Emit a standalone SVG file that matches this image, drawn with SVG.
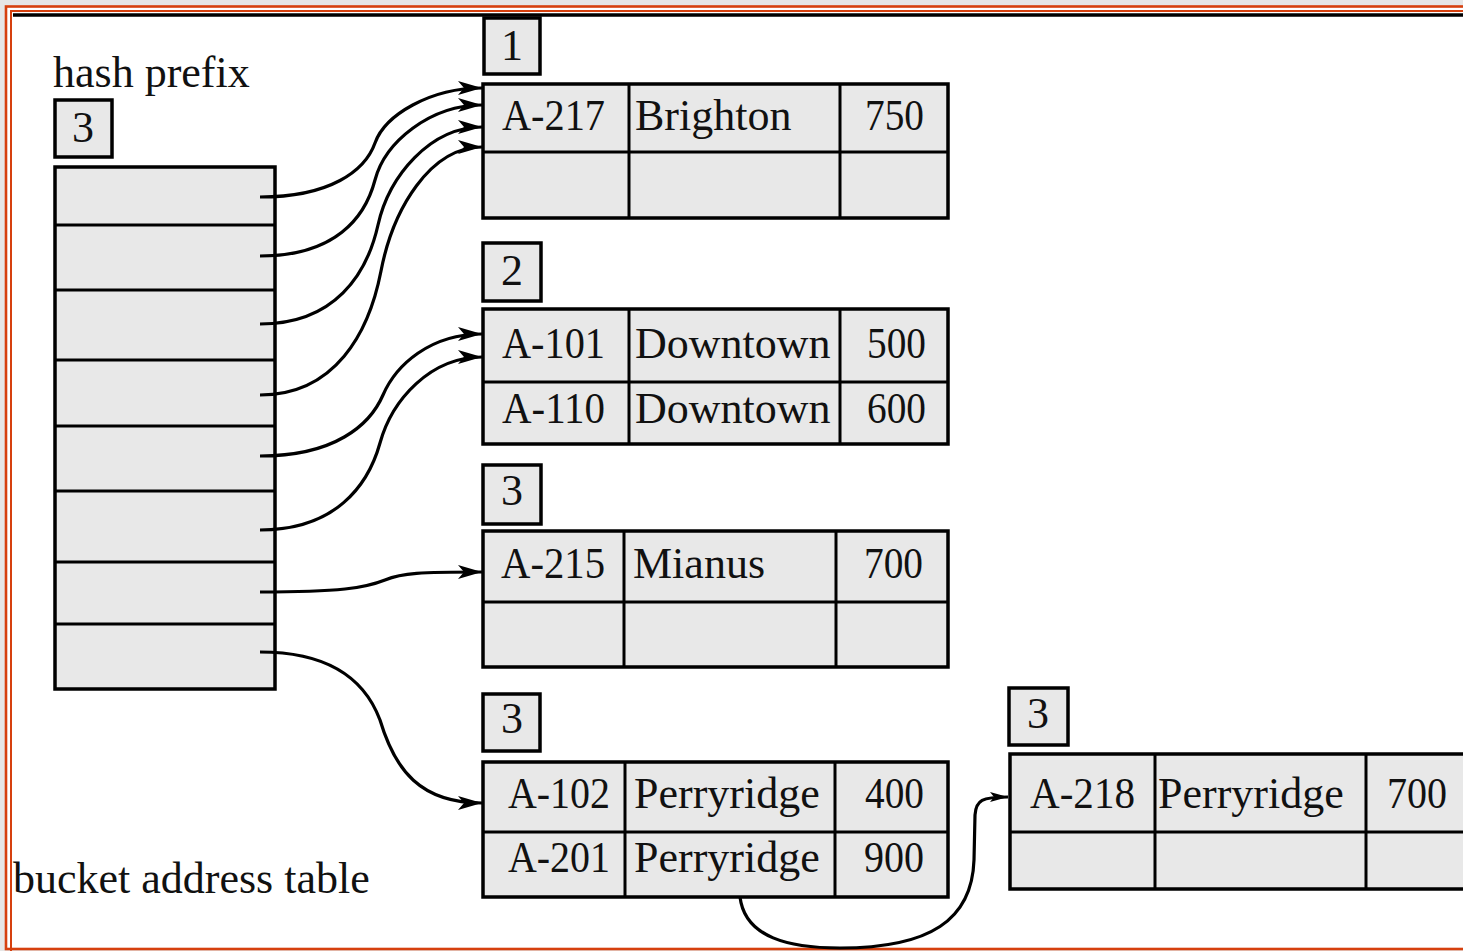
<svg xmlns="http://www.w3.org/2000/svg" width="1463" height="951" viewBox="0 0 1463 951">
<defs>
<style>
.t{font-family:"Liberation Serif","Times New Roman",serif;font-size:44px;fill:#111}
.m{text-anchor:middle}
.box{fill:#e8e8e8;stroke:#000;stroke-width:3.5}
.grid{fill:none;stroke:#000;stroke-width:3}
.c{fill:none;stroke:#000;stroke-width:3.2}
</style>
<marker id="ah" markerUnits="userSpaceOnUse" markerWidth="26" markerHeight="16" refX="24" refY="7" orient="auto">
<path d="M0,0 L24,7 L0,14 L6,7 z" fill="#000"/>
</marker>
<marker id="ahs" markerUnits="userSpaceOnUse" markerWidth="20" markerHeight="12" refX="18" refY="5" orient="auto">
<path d="M0,0 L18,5 L0,10 L4,5 z" fill="#000"/>
</marker>
</defs>
<g id="frame">
<rect x="0" y="0" width="1463" height="951" fill="#e6e6e6"/>
<rect x="6" y="6.5" width="1470" height="942.5" fill="#fff" stroke="#d6400e" stroke-width="2.6"/>
<path d="M11,960 V11 H1470" fill="none" stroke="#d6400e" stroke-width="2"/>
<line x1="13" y1="15" x2="1463" y2="15" stroke="#000" stroke-width="3.6"/>
</g>
<g id="hash-prefix">
<text class="t" x="53" y="87">hash prefix</text>
<rect class="box" x="55" y="100" width="57" height="57"/>
<text class="t m" x="83" y="142">3</text>
</g>
<g id="bucket-address-table">
<rect class="box" x="55" y="167" width="220" height="522"/>
<path class="grid" d="M55,225H275M55,290H275M55,360H275M55,426H275M55,491H275M55,562H275M55,624H275"/>
<text class="t" x="13" y="893">bucket address table</text>
</g>
<g id="bucket1">
<rect class="box" x="484" y="18" width="56" height="56"/>
<text class="t m" x="512" y="60">1</text>
<rect class="box" x="483" y="84" width="465" height="134"/>
<path class="grid" d="M483,152H948M629,84V218M840,84V218"/>
<text class="t" x="502" y="130" textLength="103" lengthAdjust="spacingAndGlyphs">A-217</text>
<text class="t" x="635" y="130">Brighton</text>
<text class="t" x="865" y="130" textLength="59" lengthAdjust="spacingAndGlyphs">750</text>
</g>
<g id="bucket2">
<rect class="box" x="483" y="243" width="58" height="58"/>
<text class="t m" x="512" y="285">2</text>
<rect class="box" x="483" y="309" width="465" height="135"/>
<path class="grid" d="M483,382H948M629,309V444M840,309V444"/>
<text class="t" x="502" y="358" textLength="103" lengthAdjust="spacingAndGlyphs">A-101</text>
<text class="t" x="635" y="358">Downtown</text>
<text class="t" x="867" y="358" textLength="59" lengthAdjust="spacingAndGlyphs">500</text>
<text class="t" x="502" y="423" textLength="103" lengthAdjust="spacingAndGlyphs">A-110</text>
<text class="t" x="635" y="423">Downtown</text>
<text class="t" x="867" y="423" textLength="59" lengthAdjust="spacingAndGlyphs">600</text>
</g>
<g id="bucket3">
<rect class="box" x="483" y="465" width="58" height="59"/>
<text class="t m" x="512" y="505">3</text>
<rect class="box" x="483" y="531" width="465" height="136"/>
<path class="grid" d="M483,602H948M624,531V667M836,531V667"/>
<text class="t" x="501" y="578" textLength="104" lengthAdjust="spacingAndGlyphs">A-215</text>
<text class="t" x="633" y="578">Mianus</text>
<text class="t" x="864" y="578" textLength="59" lengthAdjust="spacingAndGlyphs">700</text>
</g>
<g id="bucket4">
<rect class="box" x="483" y="694" width="57" height="57"/>
<text class="t m" x="512" y="733">3</text>
<rect class="box" x="483" y="762" width="465" height="135"/>
<path class="grid" d="M483,832H948M625,762V897M835,762V897"/>
<text class="t" x="508" y="808" textLength="102" lengthAdjust="spacingAndGlyphs">A-102</text>
<text class="t" x="634" y="808">Perryridge</text>
<text class="t" x="865" y="808" textLength="59" lengthAdjust="spacingAndGlyphs">400</text>
<text class="t" x="508" y="872" textLength="102" lengthAdjust="spacingAndGlyphs">A-201</text>
<text class="t" x="634" y="872">Perryridge</text>
<text class="t" x="864" y="872" textLength="60" lengthAdjust="spacingAndGlyphs">900</text>
</g>
<g id="bucket5">
<rect class="box" x="1009" y="688" width="59" height="57"/>
<text class="t m" x="1038" y="728">3</text>
<rect class="box" x="1010" y="754" width="480" height="135"/>
<path class="grid" d="M1010,832H1490M1155,754V889M1366,754V889"/>
<text class="t" x="1030" y="808" textLength="105" lengthAdjust="spacingAndGlyphs">A-218</text>
<text class="t" x="1158" y="808">Perryridge</text>
<text class="t" x="1387" y="808" textLength="60" lengthAdjust="spacingAndGlyphs">700</text>
</g>
<g id="connectors">
<path class="c" marker-end="url(#ah)" d="M260,197 C330,197 365,171 375,143 S430,88 482,88"/>
<path class="c" marker-end="url(#ah)" d="M260,256 C335,256 365,218 375,180 S430,105 482,105"/>
<path class="c" marker-end="url(#ah)" d="M260,324 C335,324 367,274 378,225 S430,127 482,127"/>
<path class="c" marker-end="url(#ah)" d="M260,395 C335,395 369,333 381,271 S430,147 482,147"/>
<path class="c" marker-end="url(#ah)" d="M260,456 C335,456 370,425 383,395 S430,334 482,334"/>
<path class="c" marker-end="url(#ah)" d="M260,530 C335,530 368,486 380,443 S430,357 482,357"/>
<path class="c" marker-end="url(#ah)" d="M260,592 C340,592 365,588 385,580 C402,573 420,572 482,572"/>
<path class="c" marker-end="url(#ah)" d="M260,652 C330,652 365,680 380,720 C395,770 420,803 482,803"/>
<path class="c" marker-end="url(#ahs)" d="M740,897 C745,938 790,948 840,948 C930,948 972,920 974,860 L975,815 C976,800 982,797 1008,797"/>
</g>
</svg>
